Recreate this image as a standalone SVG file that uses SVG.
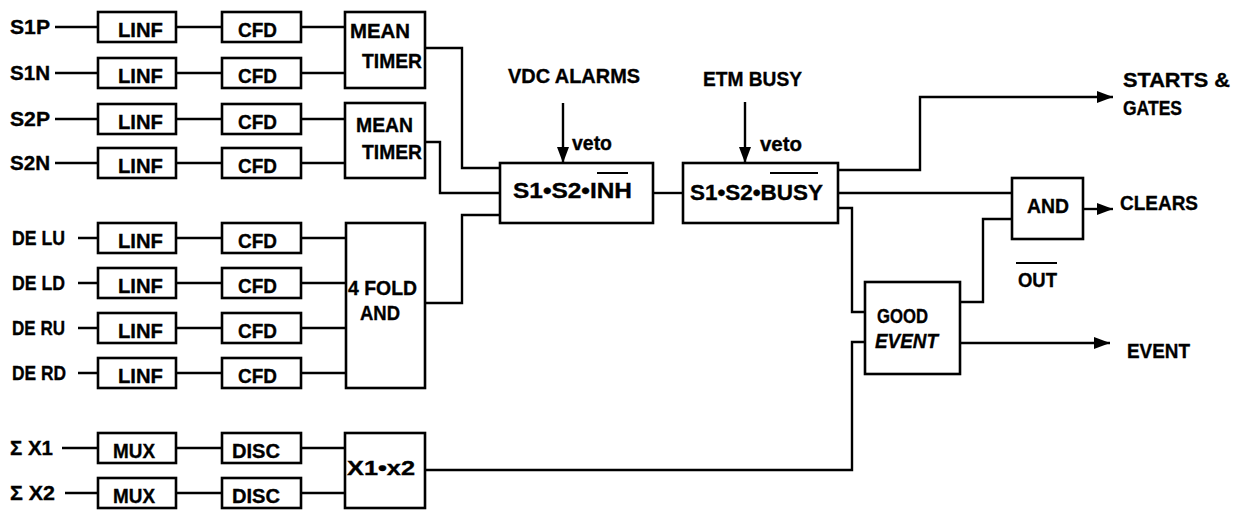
<svg xmlns="http://www.w3.org/2000/svg" width="1233" height="510" viewBox="0 0 1233 510">
<style>
rect{fill:#fff;stroke:#000;stroke-width:2.6}
.c path,.c line{fill:none;stroke:#000;stroke-width:2.4}
text{font-family:"Liberation Sans",Arial,Helvetica,sans-serif;font-weight:bold;font-size:20px;fill:#000;stroke:#000;stroke-width:0.35}
.ol{stroke:#000;stroke-width:2}
</style>
<defs>
<marker id="arr" viewBox="0 0 16 12" refX="16" refY="6" markerWidth="16" markerHeight="12" markerUnits="userSpaceOnUse" orient="auto"><path d="M0,0 L16,6 L0,12 z" fill="#000"/></marker>
</defs>
<g class="c" id="connectors">
<path d="M55,27 H98 M176,27 H222 M301,27 H345"/>
<path d="M55,73 H98 M176,73 H222 M301,73 H345"/>
<path d="M55,119 H98 M176,119 H222 M301,119 H345"/>
<path d="M55,163 H98 M176,163 H222 M301,163 H345"/>
<path d="M78,238 H98 M176,238 H222 M301,238 H346"/>
<path d="M78,283 H98 M176,283 H222 M301,283 H346"/>
<path d="M78,328 H98 M176,328 H222 M301,328 H346"/>
<path d="M78,373 H98 M176,373 H222 M301,373 H346"/>
<path d="M62,448 H98 M176,448 H222 M301,448 H345"/>
<path d="M65,493 H98 M176,493 H222 M301,493 H345"/>
<path d="M425,48 H462 V168 H500"/>
<path d="M425,142 H440 V193 H500"/>
<path d="M425,303 H462 V215 H500"/>
<path d="M653,193 H683"/>
<path d="M838,170 H920 V97 H1113" marker-end="url(#arr)"/>
<path d="M838,193 H1012"/>
<path d="M838,208 H852 V312 H865"/>
<path d="M425,470 H852 V342 H865"/>
<path d="M960,302 H983 V219 H1012"/>
<path d="M1083,209 H1113" marker-end="url(#arr)"/>
<path d="M960,343 H1110" marker-end="url(#arr)"/>
<path d="M563,103 V163" marker-end="url(#arr)"/>
<path d="M745,102 V163" marker-end="url(#arr)"/>
</g>
<g id="labels">
<text x="10" y="34" textLength="40" lengthAdjust="spacingAndGlyphs">S1P</text>
<text x="10" y="80" textLength="40" lengthAdjust="spacingAndGlyphs">S1N</text>
<text x="10" y="126" textLength="40" lengthAdjust="spacingAndGlyphs">S2P</text>
<text x="10" y="170" textLength="40" lengthAdjust="spacingAndGlyphs">S2N</text>
<text x="12" y="245" textLength="53" lengthAdjust="spacingAndGlyphs">DE LU</text>
<text x="12" y="290" textLength="53" lengthAdjust="spacingAndGlyphs">DE LD</text>
<text x="12" y="335" textLength="53" lengthAdjust="spacingAndGlyphs">DE RU</text>
<text x="12" y="380" textLength="54" lengthAdjust="spacingAndGlyphs">DE RD</text>
<text x="10" y="455" textLength="43" lengthAdjust="spacingAndGlyphs">Σ X1</text>
<text x="10" y="500" textLength="45" lengthAdjust="spacingAndGlyphs">Σ X2</text>
<text x="508" y="83" textLength="132" lengthAdjust="spacingAndGlyphs">VDC ALARMS</text>
<text x="572" y="150" textLength="40" lengthAdjust="spacingAndGlyphs">veto</text>
<text x="703" y="86" textLength="99" lengthAdjust="spacingAndGlyphs">ETM BUSY</text>
<text x="760" y="151" textLength="42" lengthAdjust="spacingAndGlyphs">veto</text>
<text x="1123" y="87" textLength="107" lengthAdjust="spacingAndGlyphs">STARTS &amp;</text>
<text x="1123" y="115" textLength="59" lengthAdjust="spacingAndGlyphs">GATES</text>
<text x="1120" y="210" textLength="78" lengthAdjust="spacingAndGlyphs">CLEARS</text>
<text x="1018" y="287" textLength="39" lengthAdjust="spacingAndGlyphs">OUT</text>
<line class="ol" x1="1016" y1="263" x2="1057" y2="263"/>
<text x="1127" y="358" textLength="63" lengthAdjust="spacingAndGlyphs">EVENT</text>
</g>
<g id="linf1"><rect x="98" y="12" width="78" height="30"/><text x="118" y="37" textLength="45" lengthAdjust="spacingAndGlyphs">LINF</text></g>
<g id="linf2"><rect x="98" y="58" width="78" height="30"/><text x="118" y="83" textLength="45" lengthAdjust="spacingAndGlyphs">LINF</text></g>
<g id="linf3"><rect x="98" y="104" width="78" height="30"/><text x="118" y="129" textLength="45" lengthAdjust="spacingAndGlyphs">LINF</text></g>
<g id="linf4"><rect x="98" y="148" width="78" height="30"/><text x="118" y="173" textLength="45" lengthAdjust="spacingAndGlyphs">LINF</text></g>
<g id="linf5"><rect x="98" y="223" width="78" height="30"/><text x="118" y="248" textLength="45" lengthAdjust="spacingAndGlyphs">LINF</text></g>
<g id="linf6"><rect x="98" y="268" width="78" height="30"/><text x="118" y="293" textLength="45" lengthAdjust="spacingAndGlyphs">LINF</text></g>
<g id="linf7"><rect x="98" y="313" width="78" height="30"/><text x="118" y="338" textLength="45" lengthAdjust="spacingAndGlyphs">LINF</text></g>
<g id="linf8"><rect x="98" y="358" width="78" height="30"/><text x="118" y="383" textLength="45" lengthAdjust="spacingAndGlyphs">LINF</text></g>
<g id="mux1"><rect x="98" y="433" width="78" height="30"/><text x="113" y="458" textLength="42" lengthAdjust="spacingAndGlyphs">MUX</text></g>
<g id="mux2"><rect x="98" y="478" width="78" height="30"/><text x="113" y="503" textLength="42" lengthAdjust="spacingAndGlyphs">MUX</text></g>
<g id="cfd1"><rect x="222" y="12" width="79" height="30"/><text x="238" y="37" textLength="39" lengthAdjust="spacingAndGlyphs">CFD</text></g>
<g id="cfd2"><rect x="222" y="58" width="79" height="30"/><text x="238" y="83" textLength="39" lengthAdjust="spacingAndGlyphs">CFD</text></g>
<g id="cfd3"><rect x="222" y="104" width="79" height="30"/><text x="238" y="129" textLength="39" lengthAdjust="spacingAndGlyphs">CFD</text></g>
<g id="cfd4"><rect x="222" y="148" width="79" height="30"/><text x="238" y="173" textLength="39" lengthAdjust="spacingAndGlyphs">CFD</text></g>
<g id="cfd5"><rect x="222" y="223" width="79" height="30"/><text x="238" y="248" textLength="39" lengthAdjust="spacingAndGlyphs">CFD</text></g>
<g id="cfd6"><rect x="222" y="268" width="79" height="30"/><text x="238" y="293" textLength="39" lengthAdjust="spacingAndGlyphs">CFD</text></g>
<g id="cfd7"><rect x="222" y="313" width="79" height="30"/><text x="238" y="338" textLength="39" lengthAdjust="spacingAndGlyphs">CFD</text></g>
<g id="cfd8"><rect x="222" y="358" width="79" height="30"/><text x="238" y="383" textLength="39" lengthAdjust="spacingAndGlyphs">CFD</text></g>
<g id="disc1"><rect x="222" y="433" width="79" height="30"/><text x="232" y="458" textLength="48" lengthAdjust="spacingAndGlyphs">DISC</text></g>
<g id="disc2"><rect x="222" y="478" width="79" height="30"/><text x="232" y="503" textLength="48" lengthAdjust="spacingAndGlyphs">DISC</text></g>
<g id="meantimer1"><rect x="345" y="12" width="80" height="76"/><text x="350" y="38" textLength="60" lengthAdjust="spacingAndGlyphs">MEAN</text><text x="362" y="68" textLength="60" lengthAdjust="spacingAndGlyphs">TIMER</text></g>
<g id="meantimer2"><rect x="345" y="103" width="80" height="75"/><text x="356" y="132" textLength="57" lengthAdjust="spacingAndGlyphs">MEAN</text><text x="362" y="159" textLength="60" lengthAdjust="spacingAndGlyphs">TIMER</text></g>
<g id="fourfold"><rect x="346" y="223" width="79" height="165"/><text x="348" y="295" textLength="69" lengthAdjust="spacingAndGlyphs">4 FOLD</text><text x="360" y="320" textLength="40" lengthAdjust="spacingAndGlyphs">AND</text></g>
<g id="x1x2"><rect x="345" y="433" width="80" height="75"/><text x="347" y="475" textLength="68" lengthAdjust="spacingAndGlyphs">X1•x2</text></g>
<g id="inh"><rect x="500" y="163" width="153" height="60"/><text x="513" y="198" style="font-size:22px" textLength="119" lengthAdjust="spacingAndGlyphs">S1•S2•INH</text><line class="ol" x1="597" y1="173" x2="628" y2="173"/></g>
<g id="busy"><rect x="683" y="163" width="155" height="60"/><text x="690" y="200" style="font-size:22px" textLength="133" lengthAdjust="spacingAndGlyphs">S1•S2•BUSY</text><line class="ol" x1="770" y1="173" x2="818" y2="173"/></g>
<g id="goodevent"><rect x="865" y="282" width="95" height="92"/><text x="877" y="323" textLength="51" lengthAdjust="spacingAndGlyphs">GOOD</text><text x="875" y="348" font-style="italic" textLength="63" lengthAdjust="spacingAndGlyphs">EVENT</text></g>
<g id="and"><rect x="1012" y="178" width="71" height="61"/><text x="1027" y="213" textLength="42" lengthAdjust="spacingAndGlyphs">AND</text></g>
</svg>
